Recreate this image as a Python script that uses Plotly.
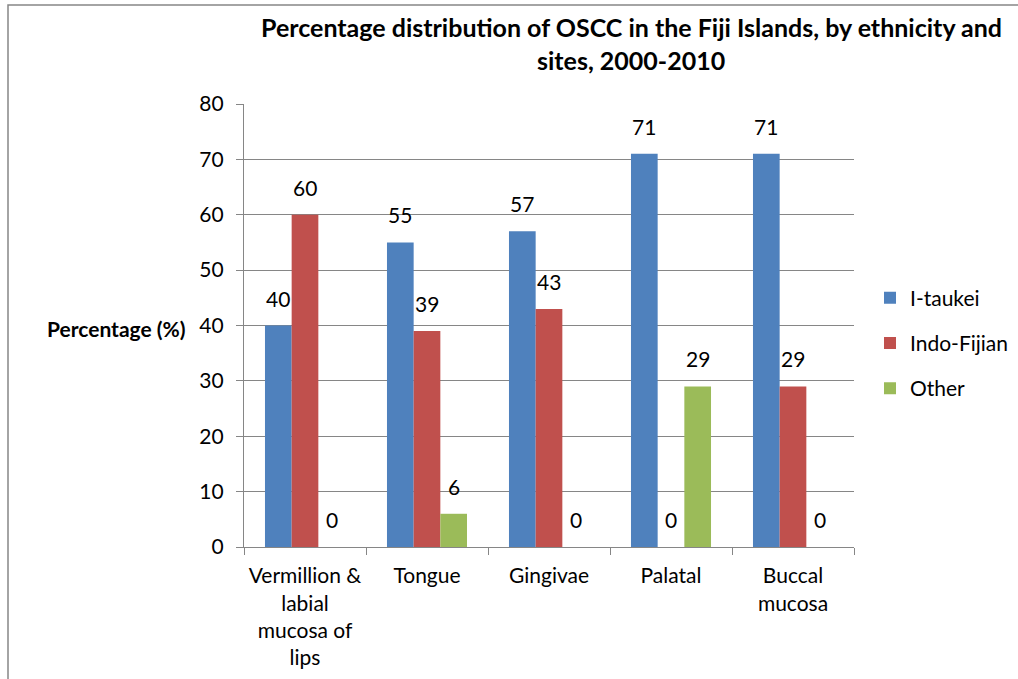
import plotly.graph_objects as go

# Sites and per-ethnicity percentages
sites = ["Vermillion &<br>labial<br>mucosa of<br>lips", "Tongue", "Gingivae", "Palatal", "Buccal<br>mucosa"]
i_taukei = [40, 55, 57, 71, 71]
indo_fijian = [60, 39, 43, 0, 29]
other = [0, 6, 0, 29, 0]
series_names = ["I-taukei", "Indo-Fijian", "Other"]
series_colors = ["#4F81BD", "#C0504D", "#9BBB59"]
y_ticks = [0, 10, 20, 30, 40, 50, 60, 70, 80]
title_lines = [
    "Percentage distribution of OSCC in the Fiji Islands, by ethnicity and",
    "sites, 2000-2010",
]

FONT = "Lato, 'Liberation Sans', sans-serif"
GRID = "#868686"
TXT = 21

# Pixel geometry of the plotting area inside the 1018x679 page
W, H = 1018, 679
L, R, T, B = 244, 854, 104, 547
BAR_PX = (R - L) / len(sites) * (1 - 0.344) / 3


def px_x(p):
    return (p - L) / (R - L)


def px_y(p):
    return (B - p) / (B - T)


fig = go.Figure()
all_series = [i_taukei, indo_fijian, other]
for k, (name, vals, col) in enumerate(zip(series_names, all_series, series_colors)):
    fig.add_trace(go.Bar(
        x=sites, y=vals, name=name, marker=dict(color=col, line=dict(width=0)),
        legendgroup=name,
    ))
    # value labels centred above each bar
    for s, v in zip(sites, vals):
        fig.add_annotation(
            x=s, y=v, text=str(v), showarrow=False, xref="x", yref="y",
            xanchor="center", yanchor="bottom", xshift=(k - 1) * BAR_PX, yshift=13,
            font=dict(family=FONT, size=TXT, color="#000000"),
        )

# two-line bold chart title
for line, cy in zip(title_lines, [27, 60]):
    fig.add_annotation(
        x=px_x(631), y=px_y(cy), xref="paper", yref="paper", text="<b>" + line + "</b>",
        showarrow=False, xanchor="center", yanchor="middle",
        font=dict(family=FONT, size=25, color="#000000"),
    )

# axis title written horizontally to the left of the value axis
fig.add_annotation(
    x=px_x(188), y=px_y(328), xref="paper", yref="paper", text="<b>Percentage (%)</b>",
    showarrow=False, xanchor="right", yanchor="middle",
    font=dict(family=FONT, size=TXT, color="#000000"),
)

# chart border (left and top edges visible)
fig.add_shape(
    type="rect", xref="paper", yref="paper",
    x0=px_x(8), x1=px_x(W + 4), y0=px_y(H + 4), y1=px_y(5),
    line=dict(color=GRID, width=1.5), fillcolor="rgba(0,0,0,0)", layer="below",
)

fig.update_layout(
    width=W, height=H,
    margin=dict(l=L, r=W - R, t=T, b=H - B, autoexpand=False),
    paper_bgcolor="white", plot_bgcolor="white",
    barmode="group", bargap=0.344, bargroupgap=0,
    font=dict(family=FONT, size=TXT, color="#000000"),
    legend=dict(
        x=px_x(870), y=px_y(343), xanchor="left", yanchor="middle",
        font=dict(family=FONT, size=TXT, color="#000000"),
        tracegroupgap=15, itemwidth=30, bgcolor="rgba(0,0,0,0)",
    ),
    showlegend=True,
)

fig.update_xaxes(
    showline=True, linecolor=GRID, linewidth=1.2, automargin=False, tickangle=0,
    ticks="outside", tickson="boundaries", ticklen=7, tickcolor=GRID, tickwidth=1.2,
    ticklabelstandoff=10,
    showgrid=False, tickfont=dict(family=FONT, size=TXT, color="#000000"),
)
fig.update_yaxes(
    range=[0, 80], tickvals=y_ticks, showline=True, linecolor=GRID, linewidth=1.2,
    ticks="outside", ticklen=7, tickcolor=GRID, tickwidth=1.2, automargin=False,
    showgrid=True, gridcolor=GRID, gridwidth=1.2, zeroline=False,
    ticklabelstandoff=8, tickfont=dict(family=FONT, size=TXT, color="#000000"),
)

fig.write_html("out.html")
